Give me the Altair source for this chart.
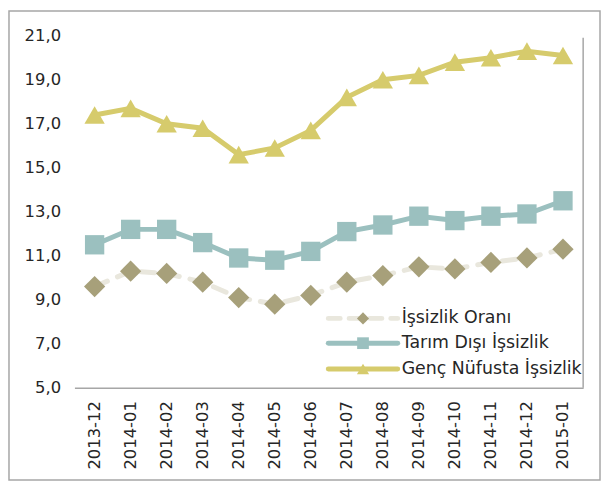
import altair as alt
import pandas as pd

months = ["2013-12", "2014-01", "2014-02", "2014-03", "2014-04", "2014-05", "2014-06",
          "2014-07", "2014-08", "2014-09", "2014-10", "2014-11", "2014-12", "2015-01"]
issizlik = [9.6, 10.3, 10.2, 9.8, 9.1, 8.8, 9.2, 9.8, 10.1, 10.5, 10.4, 10.7, 10.9, 11.3]
tarim = [11.5, 12.2, 12.2, 11.6, 10.9, 10.8, 11.2, 12.1, 12.4, 12.8, 12.6, 12.8, 12.9, 13.5]
genc = [17.4, 17.7, 17.0, 16.8, 15.6, 15.9, 16.7, 18.2, 19.0, 19.2, 19.8, 20.0, 20.3, 20.1]
series_names = ["İşsizlik Oranı", "Tarım Dışı İşsizlik", "Genç Nüfusta İşsizlik"]
y_ticks = [5, 7, 9, 11, 13, 15, 17, 19, 21]

W, H = 513, 355
FONT = "DejaVu Sans"
TXT = "#262626"

C_ISS_LINE = "#E9E7DD"
C_ISS_PT = "#A7A07A"
C_TAR = "#9BC0BF"
C_GEN = "#D6CB6C"

def frame(values):
    return pd.DataFrame({"ay": months, "deger": values})

x_enc = alt.X("ay:N", sort=months, scale=alt.Scale(type="point", padding=0.56),
              axis=alt.Axis(title=None, labelAngle=270, labelFontSize=16.5, labelFont=FONT,
                            labelColor=TXT, ticks=False, labelPadding=13, zindex=1,
                            domainColor="#A6A6A6", domainWidth=1.5, grid=False))
y_enc = alt.Y("deger:Q", scale=alt.Scale(domain=[5, 21], nice=False, zero=False),
              axis=alt.Axis(title=None, values=y_ticks, grid=False, domain=False, ticks=False,
                            labelFontSize=16.5, labelFont=FONT, labelColor=TXT, labelPadding=14,
                            zindex=1,
                            labelExpr="replace(format(datum.value, '.1f'), '.', ',')"))

one = pd.DataFrame({"k": [0]})

bg = alt.Chart(one).mark_rect(fill="white", stroke="#A6A6A6", strokeWidth=1.5).encode(
    x=alt.value(-66), x2=alt.value(530), y=alt.value(-25), y2=alt.value(448))

right_rule = alt.Chart(one).mark_rule(color="#A6A6A6", strokeWidth=1.5).encode(
    x=alt.value(W), y=alt.value(2), y2=alt.value(H))

iss_line = alt.Chart(frame(issizlik)).mark_line(
    color=C_ISS_LINE, strokeWidth=5, strokeDash=[14, 11], strokeCap="round").encode(x=x_enc, y=y_enc)
iss_pt = alt.Chart(frame(issizlik)).mark_point(
    shape="diamond", filled=True, color=C_ISS_PT, opacity=1, size=460).encode(x=x_enc, y=y_enc)

tar_line = alt.Chart(frame(tarim)).mark_line(color=C_TAR, strokeWidth=5).encode(x=x_enc, y=y_enc)
tar_pt = alt.Chart(frame(tarim)).mark_point(
    shape="square", filled=True, color=C_TAR, opacity=1, size=380).encode(x=x_enc, y=y_enc)

gen_line = alt.Chart(frame(genc)).mark_line(color=C_GEN, strokeWidth=5).encode(x=x_enc, y=y_enc)
gen_pt = alt.Chart(frame(genc)).mark_point(
    shape="triangle-up", filled=True, color=C_GEN, opacity=1, size=420).encode(x=x_enc, y=y_enc)

# manual legend
leg_layers = []
rows_y = [285, 310, 336]
styles = [
    dict(line=dict(color=C_ISS_LINE, strokeWidth=5, strokeDash=[12, 9], strokeCap="round"),
         shape="diamond", pcolor=C_ISS_PT, size=150),
    dict(line=dict(color=C_TAR, strokeWidth=5, strokeCap="round"),
         shape="square", pcolor=C_TAR, size=140),
    dict(line=dict(color=C_GEN, strokeWidth=5, strokeCap="round"),
         shape="triangle-up", pcolor=C_GEN, size=150),
]
for name, ly, st in zip(series_names, rows_y, styles):
    leg_layers.append(alt.Chart(one).mark_rule(**st["line"]).encode(
        x=alt.value(256), x2=alt.value(326), y=alt.value(ly)))
    leg_layers.append(alt.Chart(one).mark_point(
        shape=st["shape"], filled=True, color=st["pcolor"], opacity=1, size=st["size"]).encode(
        x=alt.value(291), y=alt.value(ly)))
    leg_layers.append(alt.Chart(one).mark_text(
        align="left", baseline="middle", fontSize=17.5, font=FONT, color=TXT).encode(
        x=alt.value(330), y=alt.value(ly), text=alt.value(name)))

chart = alt.layer(
    bg, right_rule, iss_line, iss_pt, tar_line, tar_pt, gen_line, gen_pt, *leg_layers
).properties(
    width=W, height=H,
    autosize=alt.AutoSizeParams(type="none"),
    padding={"left": 67, "top": 26, "right": 18, "bottom": 94},
    background="white",
).configure_view(stroke=None)

chart.save("out.html", embed_options={"renderer": "svg", "actions": False})
